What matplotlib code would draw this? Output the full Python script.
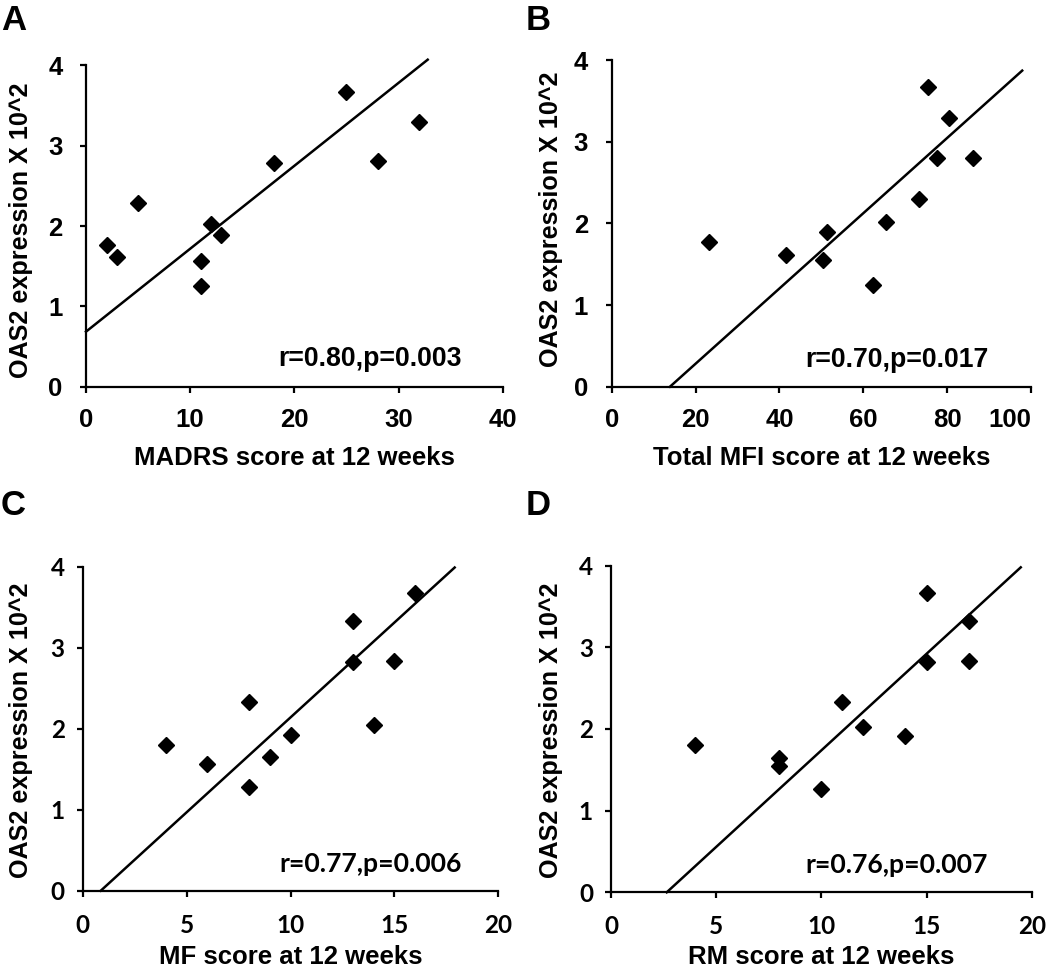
import matplotlib
matplotlib.use("Agg")
import matplotlib.pyplot as plt
import numpy as np

# ---------------- data ----------------
madrs_x = [2, 3, 5, 11, 11, 12, 13, 18, 25, 28, 32]
madrs_y = [1.76, 1.62, 2.29, 1.25, 1.56, 2.02, 1.89, 2.79, 3.67, 2.81, 3.29]
madrs_fit_x = [0, 32.8]
madrs_fit_y = [0.685, 4.07]

mfi_x = [23.3, 41.5, 50.5, 51.3, 62.2, 65.4, 73.4, 75.5, 77.7, 80.5, 86.2]
mfi_y = [1.77, 1.61, 1.55, 1.90, 1.25, 2.02, 2.30, 3.67, 2.80, 3.29, 2.80]
mfi_fit_x = [13.9, 97.9]
mfi_fit_y = [0.0, 3.87]

mf_x = [4, 6, 8, 8, 9, 10, 13, 13, 14, 15, 16]
mf_y = [1.80, 1.56, 2.33, 1.28, 1.65, 1.92, 3.33, 2.82, 2.05, 2.83, 3.67]
mf_fit_x = [0.87, 17.9]
mf_fit_y = [0.0, 3.99]

rm_x = [4, 8, 8, 10, 11, 12, 14, 15, 15, 17, 17]
rm_y = [1.80, 1.65, 1.55, 1.27, 2.33, 2.03, 1.91, 3.67, 2.82, 3.32, 2.83]
rm_fit_x = [2.65, 19.48]
rm_fit_y = [0.0, 3.98]

panel_letters = ["A", "B", "C", "D"]
xlabels = ["MADRS score at 12 weeks", "Total MFI score at 12 weeks",
           "MF score at 12 weeks", "RM score at 12 weeks"]
ylabel = "OAS2 expression X 10^2"
stats = ["r=0.80,p=0.003", "r=0.70,p=0.017", "r=0.77,p=0.006", "r=0.76,p=0.007"]
xmaxes = [40, 100, 20, 20]
xsteps = [10, 20, 5, 5]
yticks = [0, 1, 2, 3, 4]

# ---------------- layout ----------------
W, H = 1050, 968
fig = plt.figure(figsize=(W / 100, H / 100), dpi=100)

# axes rectangles in pixels: left, right, y0 (pixel row for 0), y4 (pixel row for 4)
rects = [
    (86.0, 502.7, 386.7, 65.3),
    (611.7, 1031.0, 386.7, 60.0),
    (82.7, 498.3, 890.7, 566.7),
    (611.0, 1031.7, 892.3, 565.7),
]
xlabel_base = [465, 465, 964, 964]
ylabel_cx = [21, 551, 21, 551]
ylabel_cy = [230, 219, 730.7, 730.7]
stat_pos = [(36.07, 0.257), (89.8, 0.245), (18.24, 0.226), (17.9, 0.233)]
letter_pos = [(1, 30), (526, 30), (1, 515), (526, 515)]

arial = "Liberation Sans"
calib = "Lato"
tick_fonts = [arial, arial, calib, calib]
tick_sizes = [18.5, 18.5, 17.5, 17.5]
stat_fonts = [arial, arial, calib, calib]
stat_sizes = [19.2, 19.2, 19.2, 19.2]
ypads = [13, 13, 9, 9]
xpads = [11, 11, 12.5, 12.5]

datasets = [
    (madrs_x, madrs_y, madrs_fit_x, madrs_fit_y),
    (mfi_x, mfi_y, mfi_fit_x, mfi_fit_y),
    (mf_x, mf_y, mf_fit_x, mf_fit_y),
    (rm_x, rm_y, rm_fit_x, rm_fit_y),
]

for i in range(4):
    l, r, y0, y4 = rects[i]
    ax = fig.add_axes([l / W, 1 - y0 / H, (r - l) / W, (y0 - y4) / H])
    xs, ys, fx, fy = datasets[i]
    ax.plot(fx, fy, color="black", lw=1.8, clip_on=False, zorder=2)
    ax.plot(xs, ys, linestyle="none", marker="D", ms=8.6, color="black",
            clip_on=False, zorder=3)
    ax.set_xlim(0, xmaxes[i])
    ax.set_ylim(0, 4)
    ax.set_xticks(np.arange(0, xmaxes[i] + 0.1, xsteps[i]))
    ax.set_yticks(yticks)
    for s in ["top", "right"]:
        ax.spines[s].set_visible(False)
    for s in ["left", "bottom"]:
        ax.spines[s].set_linewidth(1.6)
    ax.tick_params(axis="both", direction="out", length=4, width=1.6)
    ax.tick_params(axis="y", pad=ypads[i])
    ax.tick_params(axis="x", pad=xpads[i])
    for lab in ax.get_xticklabels() + ax.get_yticklabels():
        lab.set_fontfamily(tick_fonts[i])
        lab.set_fontweight("bold")
        lab.set_fontsize(tick_sizes[i])
    if i == 1:
        # the last tick label sits left-shifted so it stays inside the figure
        ax.get_xticklabels()[-1].set_horizontalalignment("right")
    ax.set_xlabel(xlabels[i], fontfamily=arial, fontweight="bold",
                  fontsize=18.5, va="baseline")
    ax.xaxis.set_label_coords((l + r) / 2 / W, 1 - xlabel_base[i] / H,
                              transform=fig.transFigure)
    ax.set_ylabel(ylabel, fontfamily=arial, fontweight="bold",
                  fontsize=18.1, va="center")
    ax.yaxis.set_label_coords(ylabel_cx[i] / W, 1 - ylabel_cy[i] / H,
                              transform=fig.transFigure)
    ax.text(stat_pos[i][0], stat_pos[i][1], stats[i], ha="right",
            va="baseline", fontfamily=stat_fonts[i], fontweight="bold",
            fontsize=stat_sizes[i])
    fig.text(letter_pos[i][0] / W, 1 - letter_pos[i][1] / H, panel_letters[i],
             ha="left", va="baseline", fontfamily=arial, fontweight="bold",
             fontsize=25)

fig.savefig("out.png", dpi=100)
